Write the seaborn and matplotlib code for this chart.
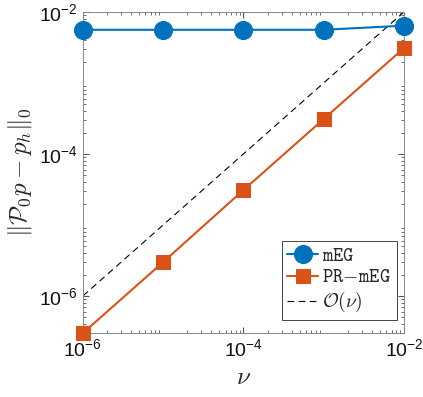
import matplotlib
matplotlib.use('Agg')
import matplotlib.pyplot as plt
import seaborn as sns
import numpy as np
import pandas as pd

nu = [1e-6, 1e-5, 1e-4, 1e-3, 1e-2]
err_meg = [5.6e-3, 5.6e-3, 5.6e-3, 5.6e-3, 6.4e-3]
err_prmeg = [3.0e-7, 3.0e-6, 3.1e-5, 3.1e-4, 3.1e-3]
ref_line = [1e-6, 1e-2]
ref_nu = [1e-6, 1e-2]

sns.set_style('ticks')
plt.rcParams['font.family'] = ['Liberation Sans', 'DejaVu Sans']
plt.rcParams['mathtext.fontset'] = 'cm'

blue = '#0072BD'
orange = '#D95319'

df = pd.DataFrame({'nu': nu, 'mEG': err_meg, 'PR-mEG': err_prmeg})

fig = plt.figure(figsize=(4.23, 3.97), dpi=100)
ax = fig.add_axes([0.196, 0.161, 0.759, 0.809])

sns.lineplot(data=df, x='nu', y='mEG', ax=ax, color=blue, marker='o',
             markersize=13, markeredgecolor=blue, linewidth=1.5,
             label=r'$\mathtt{mEG}$', clip_on=False, zorder=3)
sns.lineplot(data=df, x='nu', y='PR-mEG', ax=ax, color=orange, marker='s',
             markersize=10, markeredgecolor=orange, linewidth=1.5,
             label=r'$\mathtt{PR\!-\!mEG}$', clip_on=False, zorder=3)
ax.plot(ref_nu, ref_line, color='black', linestyle=(0, (6, 4)), linewidth=0.8,
        label=r'$\mathcal{O}(\nu)$')

ax.set_xscale('log')
ax.set_yscale('log')
ax.set_xlim(1e-6, 1e-2)
ax.set_ylim(3e-7, 1e-2)
ax.set_xticks([1e-6, 1e-4, 1e-2])
ax.set_yticks([1e-6, 1e-4, 1e-2])
ax.tick_params(which='both', direction='in', top=True, right=True,
               labelsize=14, color='#555555', labelcolor='#111111')
ax.tick_params(which='major', length=4)
ax.tick_params(which='minor', length=2)
for s in ax.spines.values():
    s.set_color('#888888')
    s.set_linewidth(0.7)

ax.set_xlabel(r'$\nu$', fontsize=18)
ax.set_ylabel(r'$\|\mathcal{P}_0 p - p_h\|_0$', fontsize=18)

leg = ax.legend(loc='lower right', fontsize=14, fancybox=False, framealpha=1,
                edgecolor='#444444', handlelength=1.6, borderpad=0.3,
                labelspacing=0.2, handletextpad=0.2, borderaxespad=0,
                bbox_to_anchor=(0.978, 0.04))
leg.get_frame().set_linewidth(0.7)

fig.savefig('out.png', dpi=100)
